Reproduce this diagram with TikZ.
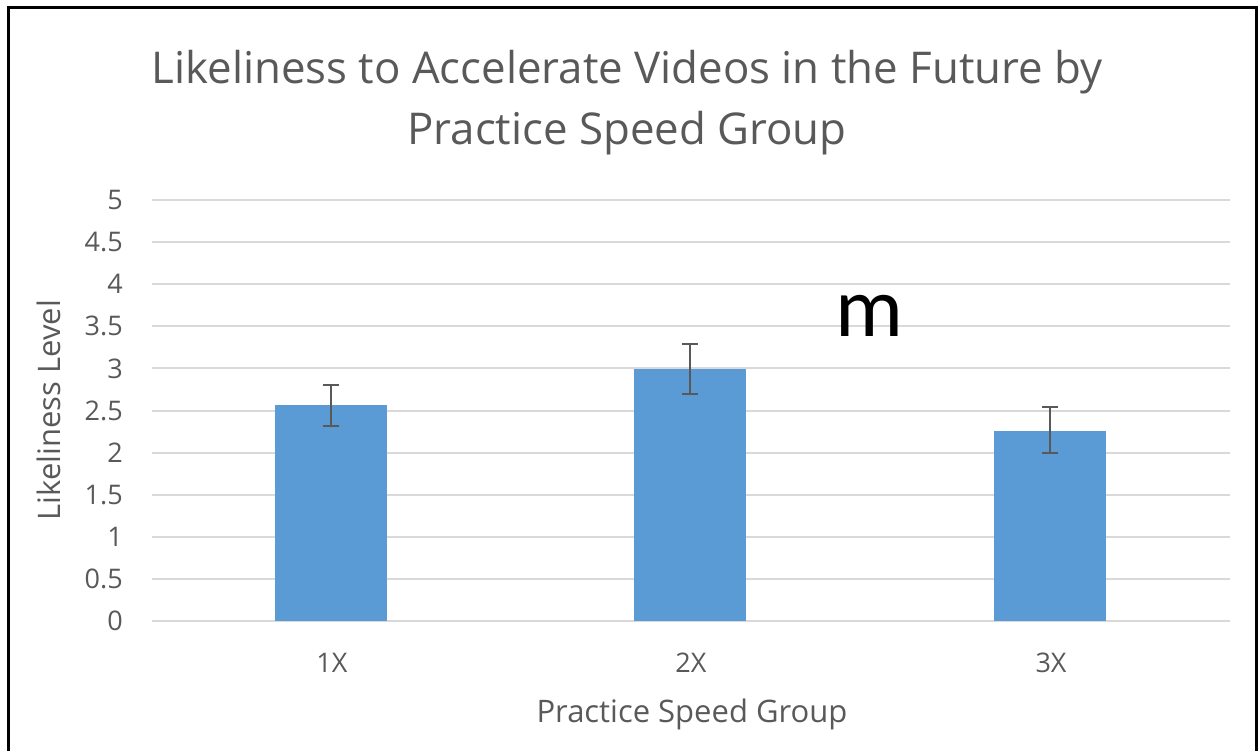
\documentclass[tikz,border=0pt]{standalone}
\usepackage{fontspec}
\setmainfont{Open Sans}
\newfontfamily\markfont{Carlito}
\usepackage{xcolor}
\usetikzlibrary{positioning}
\definecolor{barblue}{HTML}{5B9BD5}
\definecolor{gridgray}{HTML}{D9D9D9}
\definecolor{txtgray}{HTML}{595959}

\begin{document}
\begin{tikzpicture}[
  x=1pt, y=-1pt,
  grid/.style={draw=gridgray, line width=2pt},
  bar/.style={fill=barblue, draw=none},
  errbar/.style={draw=txtgray, line width=2.2pt},
  tick/.style={font=\fontsize{27}{27}\selectfont, text=txtgray, anchor=east, inner sep=0pt},
  cat/.style={font=\fontsize{27}{27}\selectfont, text=txtgray, inner sep=0pt},
  axtitle/.style={font=\fontsize{31}{31}\selectfont, text=txtgray, inner sep=0pt},
  ttl/.style={font=\fontsize{43.8}{61}\selectfont, text=txtgray, align=center, inner sep=0pt}
]
\useasboundingbox (0,0) rectangle (1258,750);

%% ---- frame ----
\draw[line width=3pt] (8,7) rectangle (1256,760);

%% ---- title ----
\node[ttl] (title) at (627,103) {Likeliness to Accelerate Videos in the Future by\\Practice Speed Group};

%% ---- gridlines and tick labels ----
\foreach \v/\lab in {0/0,1/0.5,2/1,3/1.5,4/2,5/2.5,6/3,7/3.5,8/4,9/4.5,10/5} {
  \draw[grid] (152,621-42.1*\v) -- (1230,621-42.1*\v);
  \node[tick] (tick\v) at (123,621-42.1*\v) {\lab};
}

%% ---- bars ----
\fill[bar] (275,621) rectangle (387,405);
\fill[bar] (634,621) rectangle (746,369);
\fill[bar] (994,621) rectangle (1106,431);

%% ---- error bars ----
\draw[errbar] (331,385) -- (331,426) (323,385) -- (339,385) (323,426) -- (339,426);
\draw[errbar] (690,344) -- (690,394) (682,344) -- (698,344) (682,394) -- (698,394);
\draw[errbar] (1050,407) -- (1050,453) (1042,407) -- (1058,407) (1042,453) -- (1058,453);

%% ---- category labels ----
\node[cat] (c1) at (332,663) {1X};
\node[cat] (c2) at (691,663) {2X};
\node[cat] (c3) at (1051,663) {3X};

%% ---- axis titles ----
\node[axtitle] (xtitle) at (692,714) {Practice Speed Group};
\node[axtitle, rotate=90] (ytitle) at (49,410) {Likeliness Level};

%% ---- stray mark ----
\node[font=\markfont\fontsize{85}{85}\selectfont, inner sep=0pt] (mark) at (869,316) {m};

\end{tikzpicture}
\end{document}
